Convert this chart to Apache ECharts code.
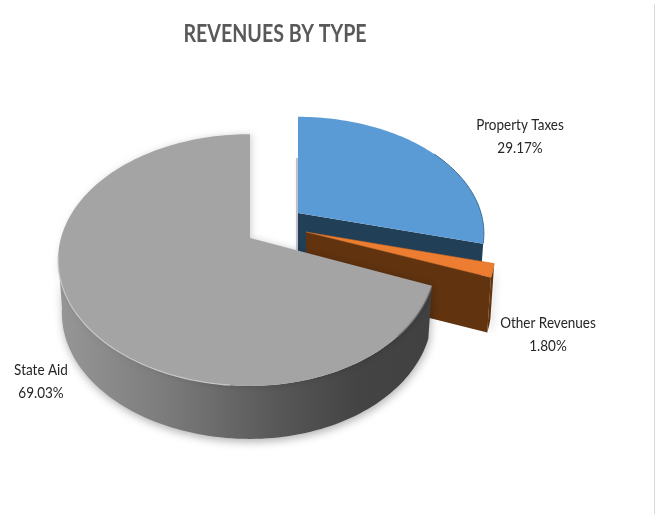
<!DOCTYPE html>
<html>
<head>
<meta charset="utf-8">
<style>html,body{margin:0;padding:0;background:#fff}#c{width:660px;height:514px}</style>
<script src="https://cdn.jsdelivr.net/npm/echarts@6/dist/echarts.min.js"></script>
</head>
<body>
<div id="c"></div>
<script>
const chartTitle = 'REVENUES BY TYPE';
const categories = ['Property Taxes', 'Other Revenues', 'State Aid'];
const shares = [29.17, 1.80, 69.03];

// Drawing settings for each slice, in the same order as the data
const apexX = [298, 306, 250];
const apexY = [213, 232, 238];
const radiusRight = [183, 186, 183];
const radiusLeft = [183, 186, 189];
const radiusY = [113, 116, 122];
const depth = [52, 55, 53];
const labelX = [520, 548, 41];
const labelY = [124, 322, 369];
const perspective = 0.175;
const bottomShrink = 0.98;
const FONT = 'Lato,"Open Sans",sans-serif';

const total = shares.reduce((a, b) => a + b, 0);

function pt(i, deg, drop, shrink) {
  const t = deg * Math.PI / 180;
  const u = Math.sin(t), v = -Math.cos(t);
  const s = 1 / (1 - perspective * v);
  const R = u >= 0 ? radiusRight[i] : radiusLeft[i];
  return [apexX[i] + R * (shrink || 1) * u * s,
          apexY[i] + radiusY[i] * v * s + (drop || 0)];
}
function arc(i, a, b, drop, shrink) {
  const out = [], n = Math.max(2, Math.ceil(Math.abs(b - a) / 1.5));
  for (let k = 0; k <= n; k++) out.push(pt(i, a + (b - a) * k / n, drop, shrink));
  return out;
}
function band(i, a, b, fill, shadow) {
  const d = depth[i];
  const top = arc(i, a, b, 0, 1), bot = arc(i, a, b, d, bottomShrink).reverse();
  const style = { fill: fill };
  if (shadow) Object.assign(style, { shadowBlur: 9, shadowColor: 'rgba(0,0,0,0.3)', shadowOffsetY: 3, shadowOffsetX: 1 });
  return { type: 'polygon', shape: { points: top.concat(bot) }, style: style, silent: true };
}
function cut(i, a, fill) {
  const d = depth[i], o = [apexX[i], apexY[i]];
  return { type: 'polygon', silent: true, shape: { points: [o, pt(i, a), pt(i, a, d, bottomShrink), [o[0], o[1] + d]] }, style: { fill: fill } };
}
function rim(i, a, b, color, w, blur) {
  return { type: 'polyline', silent: true, shape: { points: arc(i, a, b) },
    style: { stroke: color, lineWidth: w, fill: null, shadowBlur: blur || 0, shadowColor: color } };
}
function renderSlice(params, api) {
  const i = params.dataIndex, val = api.value(1);
  let before = 0;
  for (let k = 0; k < i; k++) before += shares[k];
  const a = before / total * 360, b = (before + val) / total * 360;
  const o = [apexX[i], apexY[i]];
  const faces = arc(i, a, b);
  const kids = [];
  if (i === 0) {
    kids.push(cut(i, b, '#223f58'));
    kids.push({ type: 'polyline', silent: true, shape: { points: [[o[0] - 1, o[1] + 37], [o[0] - 1, o[1] - 55]] },
      style: { stroke: 'rgba(40,60,80,0.55)', lineWidth: 1, fill: null, shadowBlur: 3, shadowColor: 'rgba(0,0,0,0.25)' } });
    kids.push({ type: 'polygon', silent: true, shape: { points: [o].concat(faces) }, style: { fill: '#5b9bd5' } });
    kids.push(rim(i, 55, b, '#3a6d96', 1));
  } else if (i === 1) {
    kids.push(band(i, a, b, '#61330f', true));
    kids.push(cut(i, b, '#61330f'));
    kids.push({ type: 'polygon', silent: true, shape: { points: [o].concat(faces) }, style: { fill: '#ed7d31', stroke: '#c9691f', lineWidth: 0.5 } });
  } else {
    const grad = new echarts.graphic.LinearGradient(0, 0, 1, 0, [
      { offset: 0, color: '#979797' }, { offset: 0.3, color: '#7a7a7a' },
      { offset: 0.6, color: '#565656' }, { offset: 0.8, color: '#444444' }, { offset: 1, color: '#414141' }]);
    kids.push(band(i, a, 262, grad, true));
    kids.push({ type: 'polygon', silent: true, shape: { points: [o].concat(faces) },
      style: { fill: '#a4a4a4', shadowBlur: 6, shadowColor: 'rgba(0,0,0,0.16)', shadowOffsetX: 2 } });
    kids.push(rim(i, 185, 262, 'rgba(205,205,205,0.8)', 1.3));
    kids.push(rim(i, a + 1, 135, 'rgba(110,110,110,0.7)', 1.2, 1.5));
  }
  kids.push({ type: 'text', silent: true, x: labelX[i], y: labelY[i] - 11, scaleX: 0.9, style: {
    text: categories[i] + '\n' + val.toFixed(2) + '%', x: 0, y: 0,
    fill: '#262626', font: '15px ' + FONT, align: 'center', verticalAlign: 'top', lineHeight: 23.5 } });
  return { type: 'group', children: kids };
}

const chart = echarts.init(document.getElementById('c'), null, { renderer: 'canvas' });
chart.setOption({
  animation: false,
  backgroundColor: '#ffffff',
  graphic: [
    { type: 'text', silent: true, x: 275, y: 21, scaleX: 0.785, style: {
      text: chartTitle, x: 0, y: 0, fill: '#595959', font: 'bold 25px ' + FONT, align: 'center', verticalAlign: 'top' } },
    { type: 'line', silent: true, shape: { x1: 654.5, y1: 4, x2: 654.5, y2: 514 }, style: { stroke: '#d9d9d9', lineWidth: 1 } }
  ],
  series: [{
    type: 'custom', coordinateSystem: 'none', silent: true, clip: false,
    data: categories.map((c, i) => [c, shares[i]]),
    renderItem: renderSlice
  }]
});
</script>
</body>
</html>
